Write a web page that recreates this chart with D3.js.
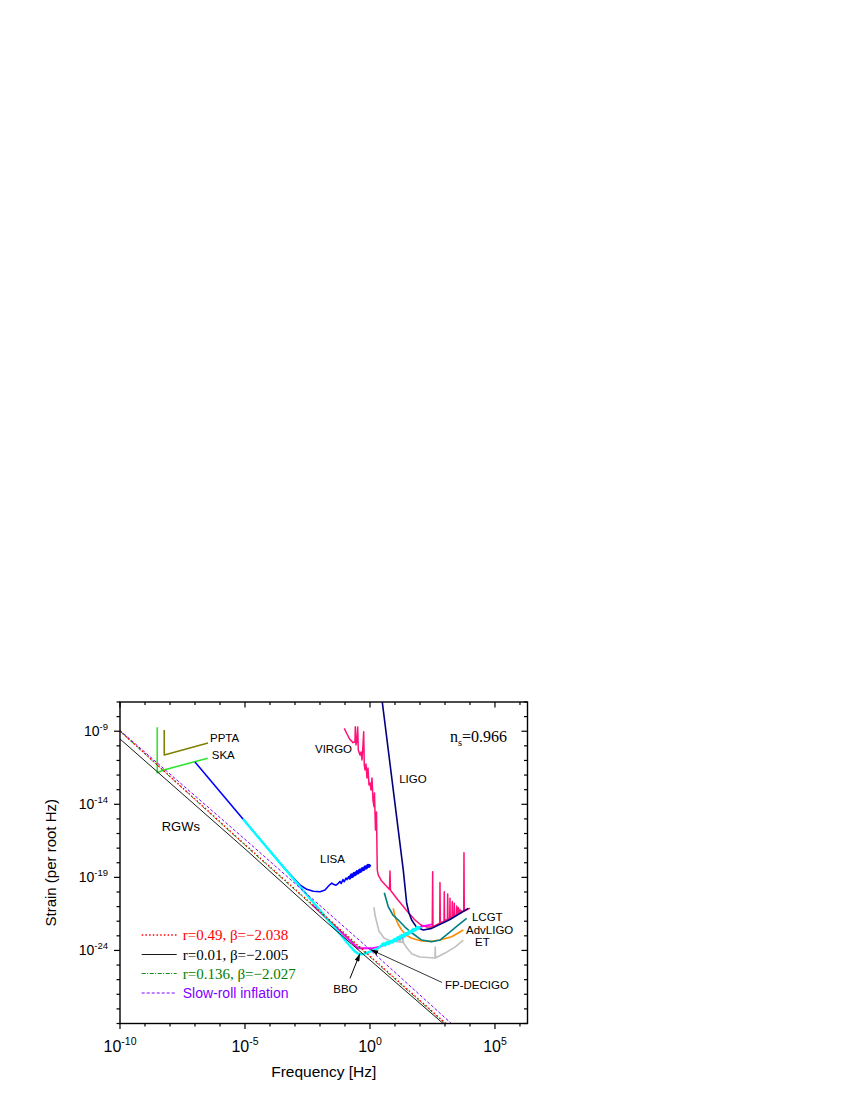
<!DOCTYPE html>
<html><head><meta charset="utf-8">
<script src="https://cdn.jsdelivr.net/npm/d3@7/dist/d3.min.js"></script>
<style>body{margin:0;background:#fff}svg{display:block}</style>
</head><body>
<svg id="c" width="850" height="1100"></svg>
<script>
// All series are pairs [log10 frequency (Hz), log10 strain (per root Hz)]
const xMajor = [-10, -5, 0, 5];
const xMinor = d3.range(-10, 7);
const yMajor = [-24, -19, -14, -9];
const yMinor = d3.range(-29, -6);

const rgwR049 = [[-10,-8.98],[-5,-16.75],[0,-24.38],[3.5,-29.7]];
const rgwR001 = [[-10,-9.53],[-5,-17.05],[-2,-21.68],[0,-24.66],[3.5,-29.85]];
const rgwR0136 = [[-10,-9.0],[-5,-16.8],[0,-24.45],[3.5,-29.75]];
const slowRoll = [[-10,-8.95],[-5,-16.4],[0,-23.95],[3.5,-29.38]];

const ppta = [[-8.23,-8.92],[-8.23,-10.63],[-6.48,-9.81]];
const ska = [[-8.51,-8.73],[-8.51,-11.84],[-8.25,-11.65],[-6.49,-10.85]];

const lisa = [[-7.0,-11.11],[-5.08,-15.01],[-3.4,-18.42],[-2.8,-19.52],[-2.53,-19.82],[-2.27,-19.95],
 [-2.0,-19.98],[-1.8,-19.86],[-1.63,-19.54],[-1.53,-19.39],[-1.47,-19.47],[-1.36,-19.54],[-1.27,-19.41],
 [-1.2,-19.28],[-1.15,-19.42],[-1.08,-19.15],[-1.03,-19.30],[-0.96,-19.05],[-0.92,-19.16],[-0.85,-18.95],
 [-0.81,-19.04],[-0.74,-18.84],[-0.70,-18.93],[-0.63,-18.73],[-0.59,-18.80],[-0.52,-18.62],[-0.48,-18.69],
 [-0.41,-18.51],[-0.37,-18.58],[-0.30,-18.40],[-0.26,-18.46],[-0.19,-18.29],[-0.15,-18.35],[-0.08,-18.19],
 [-0.04,-18.24],[0.0,-18.12]];

const bbo = [[-5.08,-15.01],[-0.8,-23.70],[-0.6,-24.08],[-0.5,-24.2],[-0.4,-24.26],[-0.25,-24.24],[0,-24.09],
 [0.33,-23.85],[0.47,-23.63],[0.55,-23.55],[0.6,-23.62],[0.68,-23.48],[0.75,-23.52],[0.82,-23.38],[0.9,-23.42],
 [0.98,-23.25],[1.05,-23.3],[1.12,-23.12],[1.2,-23.16],[1.28,-22.98],[1.35,-23.02],[1.43,-22.85],[1.5,-22.88],
 [1.58,-22.72],[1.65,-22.74],[1.73,-22.58],[1.8,-22.6],[1.88,-22.45],[1.95,-22.47],[2.0,-22.36]];

const fpDecigo = [[-2.3,-20.89],[-2.0,-21.37],[-1.2,-22.67],[-0.48,-23.85],[0.12,-23.85],[0.4,-23.74],
 [1.2,-23.22],[2.0,-22.38],[2.48,-22.21]];

const virgo = [[-1.028,-8.80],[-0.92,-9.19],[-0.80,-9.57],[-0.68,-9.78],[-0.60,-9.74],[-0.588,-8.69],[-0.56,-9.94],
 [-0.52,-9.60],[-0.492,-8.71],[-0.468,-10.28],[-0.40,-10.63],[-0.36,-10.42],[-0.32,-10.97],[-0.28,-9.94],
 [-0.252,-9.03],[-0.228,-11.31],[-0.20,-11.65],[-0.16,-11.24],[-0.12,-12.20],[-0.08,-11.52],[-0.04,-12.68],
 [0,-12.54],[0.04,-13.02],[0.08,-12.20],[0.12,-13.71],[0.16,-14.16],[0.18,-13.23],[0.22,-15.76],[0.26,-14.53],
 [0.28,-17.13],[0.292,-18.50],[0.332,-18.84],[0.468,-19.25],[0.78,-19.83],[0.8,-18.56],[0.82,-19.88],
 [1.12,-20.55],[1.48,-21.30],[1.8,-21.92],[2.04,-22.26],[2.28,-22.40],[2.48,-22.40],
 [2.49,-22.39],[2.508,-18.61],[2.52,-22.38],
 [2.79,-22.13],[2.80,-19.36],[2.815,-22.11],
 [2.962,-21.99],[2.972,-19.98],[2.985,-21.97],
 [3.098,-21.87],[3.108,-20.14],[3.12,-21.86],
 [3.19,-21.79],[3.20,-20.43],[3.212,-21.78],
 [3.282,-21.71],[3.292,-20.66],[3.305,-21.70],
 [3.362,-21.64],[3.372,-20.77],[3.385,-21.63],
 [3.458,-21.56],[3.468,-20.96],[3.48,-21.55],
 [3.522,-21.51],[3.532,-21.07],[3.545,-21.50],
 [3.59,-21.45],[3.60,-21.19],[3.612,-21.44],
 [3.658,-21.39],[3.668,-21.28],[3.68,-21.38],
 [3.75,-21.31],[3.76,-17.31],[3.772,-21.30],
 [4.0,-21.10]];

const ligo = [[0.45,-6.43],[1.332,-18.50],[1.468,-20.77],[1.56,-21.44],[1.668,-21.92],[1.868,-22.42],
 [2.132,-22.60],[2.468,-22.49],[3.2,-21.88],[3.932,-21.12]];

const lcgt = [[0.572,-20.05],[0.732,-21.01],[0.92,-21.58],[1.132,-21.92],[1.4,-22.40],[1.668,-22.79],
 [2.068,-23.29],[2.468,-23.40],[2.8,-23.29],[3.132,-22.83],[3.48,-22.33],[3.868,-21.80]];

const advLigo = [[0.932,-21.12],[1.0,-21.69],[1.12,-22.19],[1.268,-22.60],[1.44,-22.94],[1.668,-23.17],
 [2.068,-23.35],[2.4,-23.39],[2.8,-23.29],[3.268,-23.06],[3.732,-22.60]];

const et = [[0.16,-21.03],[0.2,-21.58],[0.268,-22.05],[0.36,-22.67],[0.56,-23.15],[0.8,-23.35],[1.16,-23.42],
 [1.18,-23.42],[1.2,-22.94],[1.22,-23.44],[1.3,-23.45],[1.32,-23.01],[1.34,-23.47],[1.48,-23.83],[1.68,-24.24],
 [2.0,-24.45],[2.6,-24.52],[2.61,-23.77],[2.62,-24.52],[3.0,-24.18],[3.4,-23.77],[3.732,-23.29]];

const labelTexts = ['PPTA','SKA','RGWs','VIRGO','LIGO','LISA','LCGT','AdvLIGO','ET','FP-DECIGO','BBO'];
const labelPos = [[-6.4,-9.72],[-6.33,-10.90],[-8.33,-15.83],[-2.2,-10.51],[1.17,-12.56],[-2.0,-18.0],
 [4.08,-21.99],[3.84,-22.87],[4.2,-23.68],[3.0,-26.66],[-1.47,-26.89]];
const arrowFrom = [[-0.8,-25.91],[2.88,-26.19]];
const arrowTo = [[-0.4,-24.21],[0.02,-23.94]];

const legendLabels = ['r=0.49, \u03b2=\u22122.038','r=0.01, \u03b2=\u22122.005','r=0.136, \u03b2=\u22122.027','Slow-roll inflation'];

// ---------- drawing ----------
const L=120, R=527.5, T=702, B=1023.5;
const SANS = "'Liberation Sans', Arial, sans-serif";
const SERIF = "'Liberation Serif', 'Times New Roman', serif";
const svg = d3.select('#c');
const x = d3.scaleLog().domain([1e-10, 2e6]).range([L, R]);
const y = d3.scaleLog().domain([1e-29, 1e-7]).range([B, T]);
const px = d => x(Math.pow(10, d));
const py = d => y(Math.pow(10, d));
const line = d3.line().x(d => px(d[0])).y(d => py(d[1]));

const defs = svg.append('defs');
defs.append('clipPath').attr('id','clip').append('rect')
  .attr('x',L).attr('y',T).attr('width',R-L).attr('height',B-T);
defs.append('marker').attr('id','arr').attr('viewBox','0 0 8 5')
  .attr('refX',8).attr('refY',2.5).attr('markerWidth',8).attr('markerHeight',5)
  .attr('markerUnits','userSpaceOnUse').attr('orient','auto')
  .append('path').attr('d','M0,0 L8,2.5 L0,5 Z').attr('fill','#000');

const g = svg.append('g').attr('clip-path','url(#clip)');
function draw(data, color, w, dash) {
  const p = g.append('path').attr('d', line(data)).attr('fill','none')
    .attr('stroke', color).attr('stroke-width', w).attr('stroke-linejoin','round');
  if (dash) p.attr('stroke-dasharray', dash);
  return p;
}

draw(ppta, '#808000', 1.6);
draw(ska, '#2ee62e', 1.6);
draw(lisa, '#0000ff', 1.6);
draw(lisa.filter(d => d[0] >= -0.9), '#0000ff', 3.2);
draw(et, '#c0c0c0', 1.6);
draw(advLigo, '#ff8c00', 1.6);
draw(lcgt, '#008080', 1.6);
draw(virgo, '#ff1177', 1.5);
draw(ligo, '#000080', 1.6);
draw(fpDecigo, '#ff00ff', 1.8);
draw(bbo, '#00ffff', 2.4);
draw(bbo.filter(d => d[0] >= 0.45), '#00ffff', 3.4);

draw(rgwR001, '#000000', 0.9);
draw(rgwR0136, '#008000', 0.9, '4,1.5,1,1.5');
draw(rgwR049, '#ff0000', 1.3, '1.5,2.2');
draw(slowRoll, '#8000ff', 1.0, '3,2');

// arrows
arrowFrom.forEach((f, i) => {
  svg.append('line').attr('x1', px(f[0])).attr('y1', py(f[1]))
    .attr('x2', px(arrowTo[i][0])).attr('y2', py(arrowTo[i][1]))
    .attr('stroke','#000').attr('stroke-width', i === 0 ? 1 : 0.8).attr('marker-end','url(#arr)');
});

// labels
labelTexts.forEach((t, i) => {
  svg.append('text').attr('x', px(labelPos[i][0])).attr('y', py(labelPos[i][1]))
    .attr('font-family', SANS).attr('font-size', t === 'RGWs' ? 13 : 11.5).text(t);
});

// n_s label
const ns = svg.append('text').attr('x', px(3.2)).attr('y', py(-9.72))
  .attr('font-family', SERIF).attr('font-size', 16);
ns.append('tspan').text('n');
ns.append('tspan').attr('font-size', 10.5).attr('dy', 4).text('s');
ns.append('tspan').attr('dy', -4).text('=0.966');

// frame
svg.append('rect').attr('x',L).attr('y',T).attr('width',R-L).attr('height',B-T)
  .attr('fill','none').attr('stroke','#000').attr('stroke-width',1.4);

// ticks
const tk = svg.append('g').attr('stroke','#000').attr('stroke-width',1.2);
xMinor.forEach(v => {
  const X = px(v), maj = xMajor.includes(v);
  const len = maj ? 5.5 : 3;
  tk.append('line').attr('x1',X).attr('x2',X).attr('y1',B).attr('y2',B+len);
  tk.append('line').attr('x1',X).attr('x2',X).attr('y1',T).attr('y2',T+len);
});
yMinor.forEach(v => {
  const Y = py(v), maj = yMajor.includes(v);
  const len = maj ? 6 : 3.5;
  tk.append('line').attr('y1',Y).attr('y2',Y).attr('x1',L).attr('x2',L-len);
  tk.append('line').attr('y1',Y).attr('y2',Y).attr('x1',R).attr('x2',R-len);
});

// tick labels
xMajor.forEach(v => {
  const t = svg.append('text').attr('x', px(v)).attr('y', 1051.5).attr('text-anchor','middle')
    .attr('font-family', SANS).attr('font-size', 16);
  t.append('tspan').text('10');
  t.append('tspan').attr('dy', -7).attr('font-size', 10.5).text(String(v));
});
yMajor.forEach(v => {
  const t = svg.append('text').attr('x', 108).attr('y', py(v) + 5).attr('text-anchor','end')
    .attr('font-family', SANS).attr('font-size', 14);
  t.append('tspan').text('10');
  t.append('tspan').attr('dy', -6.5).attr('font-size', 9.5).text(String(v));
});

// axis titles
svg.append('text').attr('x', (L+R)/2).attr('y', 1077).attr('text-anchor','middle')
  .attr('font-family', SANS).attr('font-size', 15.5).text('Frequency [Hz]');
svg.append('text').attr('transform', `translate(55.5,${(T+B)/2}) rotate(-90)`).attr('text-anchor','middle')
  .attr('font-family', SANS).attr('font-size', 15).text('Strain (per root Hz)');

// legend
const legColors = ['#ff0000','#000000','#008000','#8000ff'];
const legDash = ['1.5,2.2', null, '4,1.5,1,1.5', '3,2'];
const legW = [1.3, 0.9, 0.9, 1.0];
const legY = [935, 954.5, 973.5, 993];
legendLabels.forEach((t, i) => {
  const l = svg.append('line').attr('x1',141.7).attr('x2',176.7).attr('y1',legY[i]).attr('y2',legY[i])
    .attr('stroke', legColors[i]).attr('stroke-width', legW[i]);
  if (legDash[i]) l.attr('stroke-dasharray', legDash[i]);
  svg.append('text').attr('x', 182.7).attr('y', legY[i] + 5)
    .attr('font-family', i < 3 ? SERIF : SANS).attr('font-size', i < 3 ? 15 : 14)
    .attr('fill', legColors[i]).text(t);
});
</script>
</body></html>
